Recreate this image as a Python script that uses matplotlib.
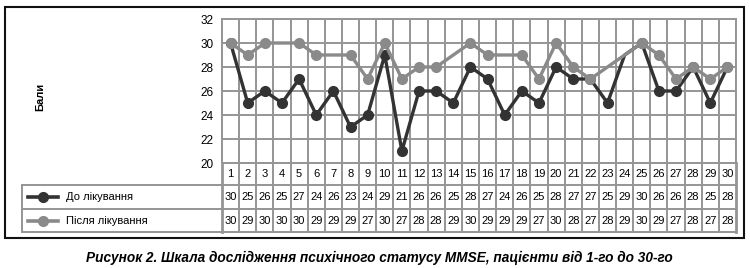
import matplotlib
matplotlib.use('Agg')
import matplotlib.pyplot as plt
from matplotlib.lines import Line2D
from matplotlib.patches import Rectangle
from matplotlib.transforms import blended_transform_factory

patients = [str(i) for i in range(1, 31)]
before = [30, 25, 26, 25, 27, 24, 26, 23, 24, 29, 21, 26, 26, 25, 28,
          27, 24, 26, 25, 28, 27, 27, 25, 29, 30, 26, 26, 28, 25, 28]
after = [30, 29, 30, 30, 30, 29, 29, 29, 27, 30, 27, 28, 28, 29, 30,
         29, 29, 29, 27, 30, 28, 27, 28, 29, 30, 29, 27, 28, 27, 28]
series_names = ['До лікування', 'Після лікування']
y_ticks = [20, 22, 24, 26, 28, 30, 32]
y_label = 'Бали'
caption = 'Рисунок 2. Шкала дослідження психічного статусу MMSE, пацієнти від 1-го до 30-го'

# markers not drawn in the original at these patient positions (0-based)
after_hidden = {3, 6, 13, 16, 22, 23}
before_hidden = {23}

plt.rcParams['font.family'] = ['Liberation Sans', 'DejaVu Sans']

W, H = 750, 268
fig = plt.figure(figsize=(7.5, 2.68), dpi=100)
fig.patch.set_facecolor('white')


def fx(px):
    return px / W


def fy(py):
    return 1 - py / H


GRID = '#959595'
DARK = '#333333'
LIGHT = '#8a8a8a'
GLW = 1.4

L, R, T, B = 222, 736, 19, 163
ax = fig.add_axes([fx(L), fy(B), fx(R - L), fy(T) - fy(B)])
xs = list(range(1, len(patients) + 1))
ax.set_xlim(0.5, len(patients) + 0.5)
ax.set_ylim(min(y_ticks), max(y_ticks))
ax.set_yticks(y_ticks)
ax.set_yticklabels([str(v) for v in y_ticks], fontsize=8.5)
ax.tick_params(axis='y', length=0, pad=6)
ax.set_xticks([])
ax.set_xticks([k + 0.5 for k in range(0, len(patients) + 1)], minor=True)
ax.tick_params(axis='x', which='both', length=0, labelbottom=False)
ax.grid(True, axis='y', which='major', color=GRID, lw=GLW)
ax.grid(True, axis='x', which='minor', color=GRID, lw=GLW)
ax.set_axisbelow(True)
for s in ax.spines.values():
    s.set_color(GRID)
    s.set_linewidth(GLW)

ax.plot(xs, before, color=DARK, lw=2.4, marker='o', ms=7, zorder=3,
        clip_on=False,
        markevery=[i for i in range(len(xs)) if i not in before_hidden])
ax.plot(xs, after, color=LIGHT, lw=2.4, marker='o', ms=7, zorder=4,
        clip_on=False,
        markevery=[i for i in range(len(xs)) if i not in after_hidden])

# data table below the plot
tr = blended_transform_factory(ax.transData, fig.transFigure)
row_edges = [163, 185, 209, 232]
TL = 22
for yy in row_edges[1:]:
    fig.add_artist(Line2D([fx(TL), fx(R)], [fy(yy), fy(yy)], color=GRID,
                          lw=GLW, transform=fig.transFigure))
fig.add_artist(Line2D([fx(TL), fx(TL)], [fy(185), fy(232)], color=GRID,
                      lw=GLW, transform=fig.transFigure))
for k in range(0, len(patients) + 1):
    fig.add_artist(Line2D([k + 0.5, k + 0.5], [fy(163), fy(232)], color=GRID,
                          lw=GLW if 0 < k < len(patients) else GLW + 0.6,
                          transform=tr))

hc = (row_edges[0] + row_edges[1]) / 2
for i, lab in enumerate(patients):
    fig.text(xs[i], fy(hc), lab, transform=tr, ha='center', va='center',
             fontsize=8)

for r, (vals, name, col) in enumerate([(before, series_names[0], DARK),
                                        (after, series_names[1], LIGHT)]):
    yc = (row_edges[r + 1] + row_edges[r + 2]) / 2
    for i, v in enumerate(vals):
        fig.text(xs[i], fy(yc), str(v), transform=tr, ha='center',
                 va='center', fontsize=8)
    fig.add_artist(Line2D([fx(28), fx(58)], [fy(yc), fy(yc)], color=col,
                          lw=2.6, transform=fig.transFigure))
    fig.add_artist(Line2D([fx(43)], [fy(yc)], color=col, marker='o', ms=7,
                          transform=fig.transFigure))
    fig.text(fx(66), fy(yc), name, ha='left', va='center', fontsize=8)

fig.text(fx(40), fy(97), y_label, rotation=90, ha='center', va='center',
         fontsize=8, fontweight='bold')

fig.add_artist(Rectangle((fx(5), fy(238)), fx(744) - fx(5), fy(7) - fy(238),
                         fill=False, edgecolor='#111111', lw=1.5,
                         transform=fig.transFigure))

fig.text(fx(379), fy(258), caption, ha='center', va='center', fontsize=9.8,
         fontweight='bold', fontstyle='italic')

fig.savefig('out.png', dpi=100, facecolor='white')
